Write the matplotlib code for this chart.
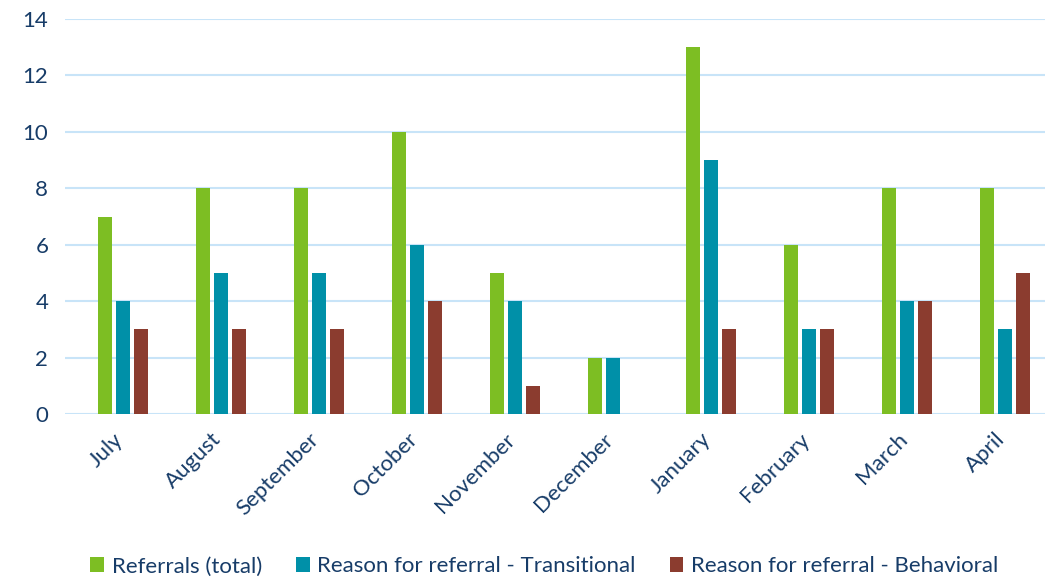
import numpy as np
import matplotlib.pyplot as plt
import matplotlib.transforms as mtransforms

months = ['July', 'August', 'September', 'October', 'November',
          'December', 'January', 'February', 'March', 'April']
total = [7, 8, 8, 10, 5, 2, 13, 6, 8, 8]
transitional = [4, 5, 5, 6, 4, 2, 9, 3, 4, 3]
behavioral = [3, 3, 3, 4, 1, 0, 3, 3, 4, 5]

text_col = '#173C68'
plt.rcParams['font.family'] = ['Lato', 'DejaVu Sans']

W, H = 1045, 579
fig = plt.figure(figsize=(W / 100, H / 100), dpi=100)
ax = fig.add_axes([65 / W, (H - 414) / H, (1045 - 65) / W, (414 - 19) / H])

x = np.arange(len(months))
bw = 0.143
off = 0.184
ax.bar(x - off, total, bw, color='#7DBE23', label='Referrals (total)', zorder=3)
ax.bar(x, transitional, bw, color='#0090A8', label='Reason for referral - Transitional', zorder=3)
ax.bar(x + off, behavioral, bw, color='#8B3C2F', label='Reason for referral - Behavioral', zorder=3)

ax.set_xlim(-0.592, 9.408)
ax.set_ylim(0, 14)
ax.set_yticks(range(0, 15, 2))
ax.grid(axis='y', color='#C8E4F8', linewidth=1.5, zorder=0)
for s in ax.spines.values():
    s.set_visible(False)
ax.tick_params(axis='both', length=0, colors=text_col, labelsize=16)
ax.tick_params(axis='y', pad=12)
ax.set_xticks(x)
ax.set_xticklabels(months, rotation=45, ha='right', rotation_mode='anchor')
ax.tick_params(axis='x', pad=11)
# nudge the slanted month names a little to the left
shift = mtransforms.ScaledTranslation(-10 / 100, 0, fig.dpi_scale_trans)
for lbl in ax.get_xticklabels():
    lbl.set_transform(lbl.get_transform() + shift)

leg = fig.legend(loc='lower center', bbox_to_anchor=(0.521, -0.03), ncol=3,
                 frameon=False, fontsize=16, handlelength=0.6, handleheight=0.6,
                 handletextpad=0.35, columnspacing=1.55)
for t in leg.get_texts():
    t.set_color(text_col)

fig.savefig('out.png', dpi=100)
